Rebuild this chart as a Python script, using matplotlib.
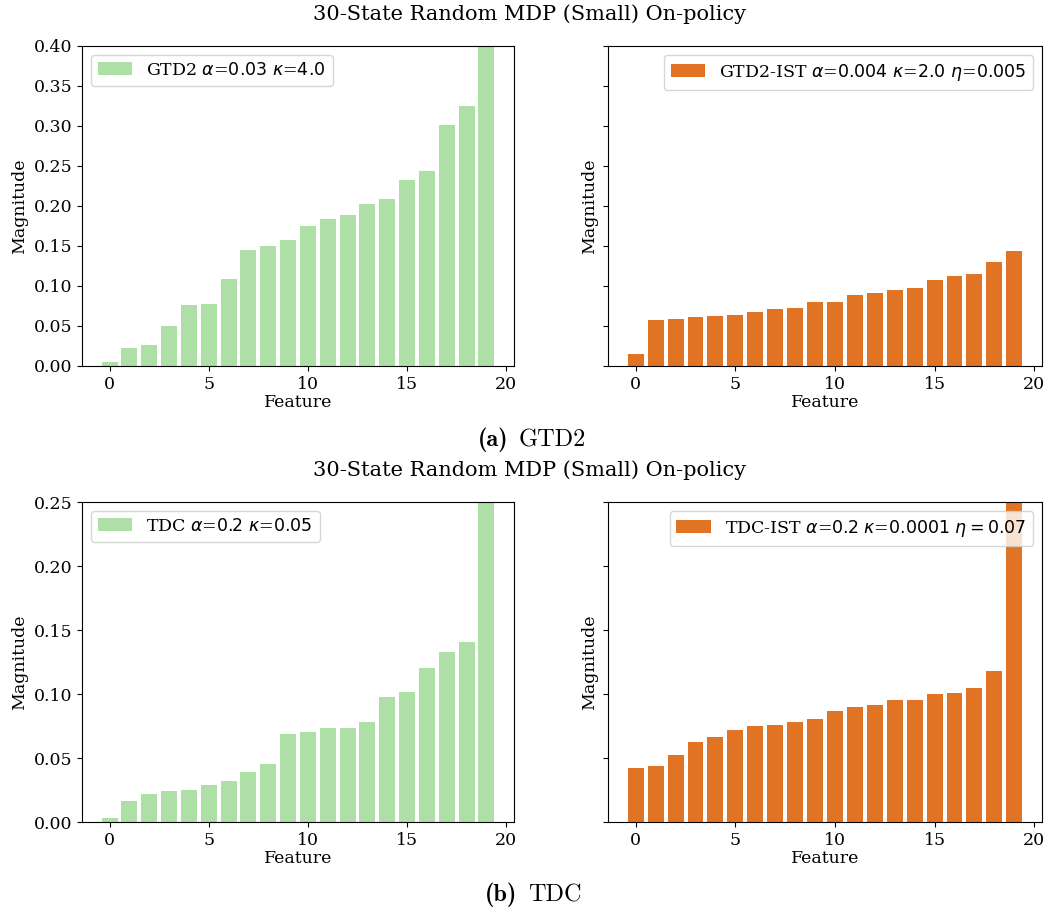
import numpy as np
import matplotlib.pyplot as plt

plt.rcParams['font.family'] = 'DejaVu Serif'
plt.rcParams['font.size'] = 12.5

features = np.arange(20)

gtd2 = [0.0046, 0.0221, 0.0259, 0.0496, 0.0759, 0.0772, 0.1084, 0.1447, 0.1497, 0.1572,
        0.1748, 0.1835, 0.1885, 0.2023, 0.2086, 0.2323, 0.2436, 0.3011, 0.3249, 0.45]
gtd2_ist = [0.0146, 0.0571, 0.0584, 0.0609, 0.0621, 0.0634, 0.0672, 0.0709, 0.0722, 0.0797,
            0.0797, 0.0884, 0.0909, 0.0947, 0.0972, 0.1072, 0.1122, 0.1147, 0.1297, 0.1435]
tdc = [0.0029, 0.0162, 0.0216, 0.0240, 0.0248, 0.0287, 0.0318, 0.0388, 0.0451, 0.0686,
       0.0701, 0.0733, 0.0733, 0.0779, 0.0975, 0.1014, 0.1202, 0.1327, 0.1405, 0.30]
tdc_ist = [0.0420, 0.0435, 0.0521, 0.0623, 0.0662, 0.0717, 0.0748, 0.0756, 0.0779, 0.0803,
           0.0865, 0.0897, 0.0912, 0.0952, 0.0952, 0.0998, 0.1006, 0.1045, 0.1178, 0.30]

labels = [r'GTD2 $\alpha$=$0.03$ $\kappa$=$4.0$',
          r'GTD2-IST $\alpha$=$0.004$ $\kappa$=$2.0$ $\eta$=$0.005$',
          r'TDC $\alpha$=$0.2$ $\kappa$=$0.05$',
          r'TDC-IST $\alpha$=$0.2$ $\kappa$=$0.0001$ $\eta = 0.07$']
ylims = [0.40, 0.25]
captions = [('(a)', 'GTD2'), ('(b)', 'TDC')]
title = '30-State Random MDP (Small) On-policy'

green = '#addfa6'
orange = '#e17324'

W, H = 1059, 913
fig = plt.figure(figsize=(W / 100, H / 100), dpi=100)


def px_axes(x0, y0, x1, y1):
    return fig.add_axes([x0 / W, 1 - y1 / H, (x1 - x0) / W, (y1 - y0) / H])


# (left data, right data, axes top, axes bottom, caption y, caption split x)
rows = [(gtd2, gtd2_ist, 46, 366, 440, 513), (tdc, tdc_ist, 502, 822, 895, 522)]
for r, (left, right, top, bottom, cap_y, cap_x) in enumerate(rows):
    ax1 = px_axes(82, top, 514, bottom)
    ax2 = px_axes(608, top, 1042, bottom)
    ax1.bar(features, left, color=green, label=labels[2 * r])
    ax2.bar(features, right, color=orange, label=labels[2 * r + 1])
    for ax in (ax1, ax2):
        ax.set_ylim(0, ylims[r])
        ax.set_xticks([0, 5, 10, 15, 20])
        ax.set_xlabel('Feature', labelpad=1)
        ax.set_ylabel('Magnitude')
    ax2.set_yticks(ax1.get_yticks())
    ax2.set_ylim(0, ylims[r])
    ax2.tick_params(labelleft=False)
    ax1.legend(loc='upper left')
    ax2.legend(loc='upper right')
    fig.text(530 / W, 1 - (top - 32) / H, title, ha='center', va='center', fontsize=15)

    # sub-figure caption: bold tag followed by the algorithm name
    tag, name = captions[r]
    fig.text((cap_x - 5) / W, 1 - cap_y / H, tag, ha='right', va='center',
             family='cmb10', fontsize=17.5)
    fig.text((cap_x + 6) / W, 1 - cap_y / H, name, ha='left', va='center',
             family='cmr10', fontsize=17.5)

fig.savefig('out.png', dpi=100)
